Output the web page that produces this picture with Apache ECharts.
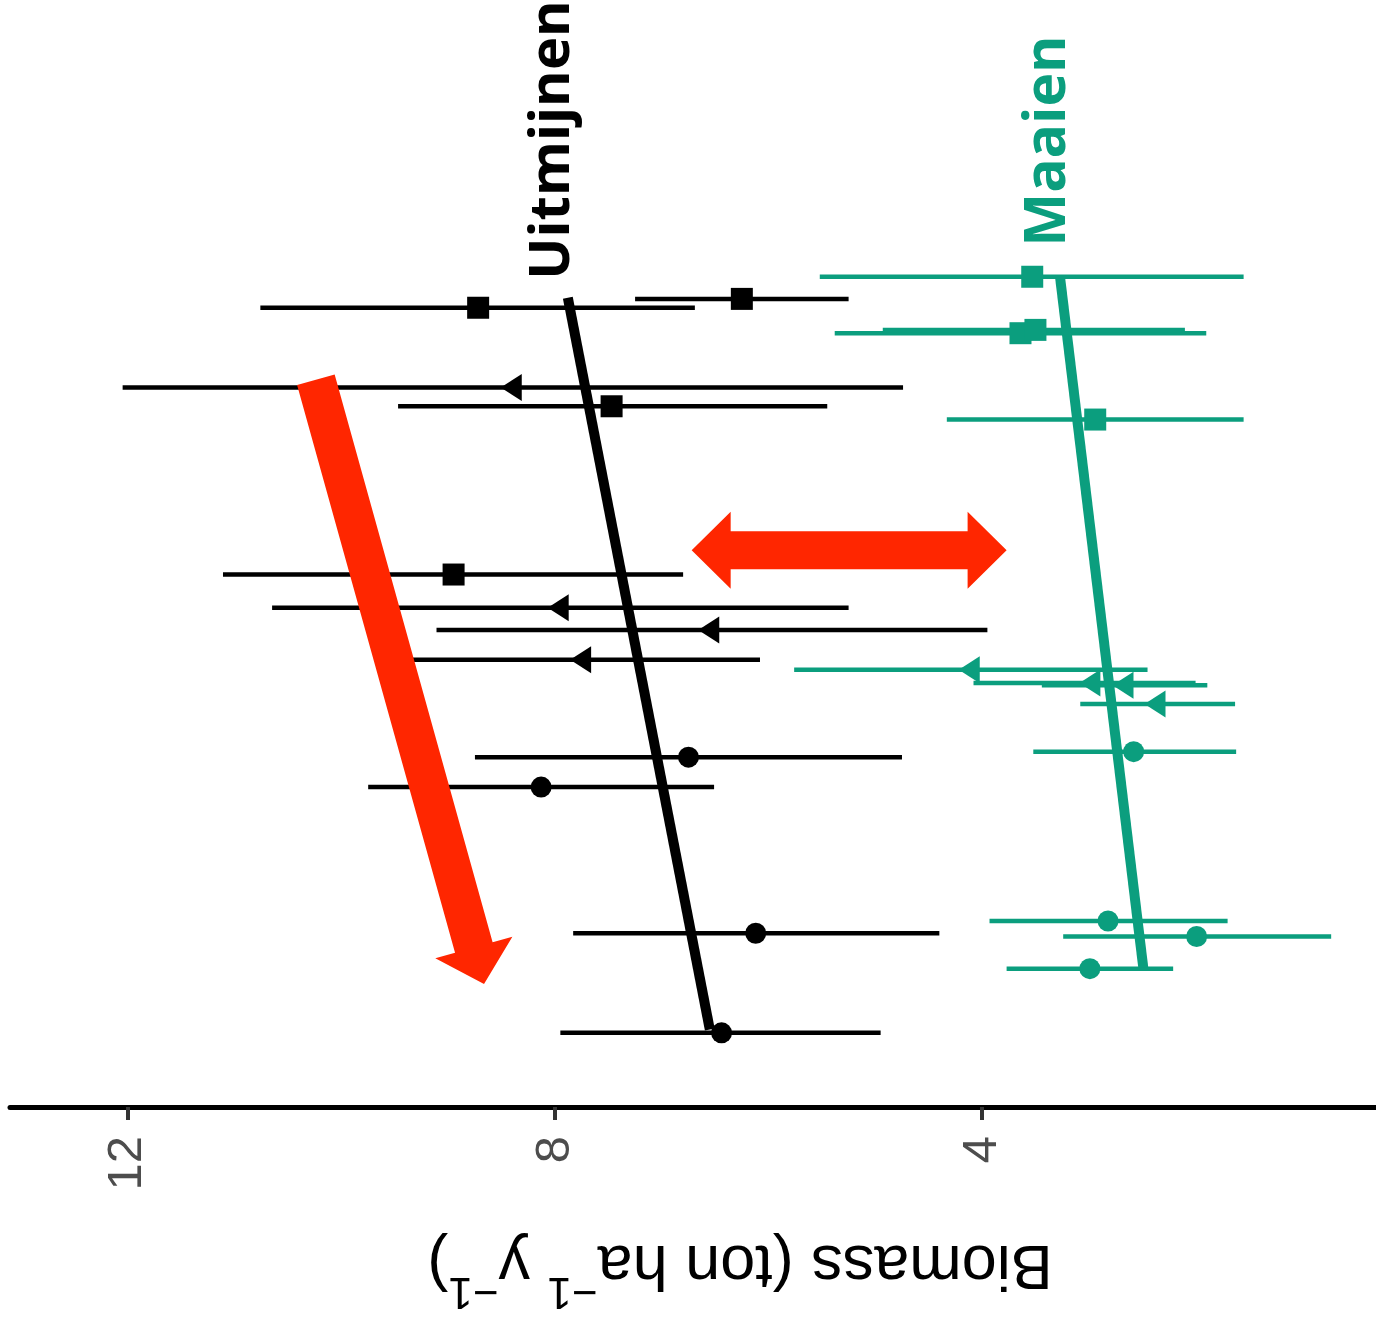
<!DOCTYPE html>
<html>
<head>
<meta charset="utf-8">
<script src="https://cdn.jsdelivr.net/npm/echarts@6/dist/echarts.min.js"></script>
<style>
  html, body { margin: 0; padding: 0; background: #fff; }
  #main { width: 1376px; height: 1322px; }
</style>
</head>
<body>
<div id="main"></div>
<script>
// biomass (ton/ha/y): mean, low and high end of the bar, and the place along the hidden vertical axis
const blackPos   = [72.2, 73.0, 65.0, 63.3, 48.1, 45.1, 43.1, 40.4, 31.6, 28.9, 15.7, 6.7];
const blackMean  = [8.72, 6.25, 8.41, 7.47, 8.95, 7.97, 6.56, 7.76, 6.75, 8.13, 6.12, 6.44];
const blackLow   = [6.69, 5.25, 4.74, 5.45, 6.80, 5.25, 3.95, 6.08, 4.75, 6.51, 4.40, 4.95];
const blackHigh  = [10.76, 7.25, 12.05, 9.47, 11.11, 10.65, 9.11, 9.34, 8.75, 9.75, 7.83, 7.95];
const blackShape = ["s", "s", "t", "s", "s", "t", "t", "t", "c", "c", "c", "c"];

const greenPos   = [75.0, 69.9, 70.2, 62.1, 39.5, 38.3, 38.1, 36.4, 32.1, 16.8, 15.4, 12.5];
const greenMean  = [3.53, 3.64, 3.50, 2.94, 4.12, 2.99, 2.68, 2.38, 2.58, 2.82, 1.99, 2.99];
const greenLow   = [1.55, 1.90, 2.10, 1.55, 2.45, 2.00, 1.89, 1.63, 1.62, 1.70, 0.73, 2.21];
const greenHigh  = [5.52, 5.38, 4.93, 4.33, 5.76, 4.08, 3.44, 3.08, 3.52, 3.93, 3.24, 3.77];
const greenShape = ["s", "s", "s", "s", "t", "t", "t", "t", "c", "c", "c", "c"];

// fitted lines [biomass, position]
const trendBlack = [[7.88, 73.1], [6.55, 7.0]];
const trendGreen = [[3.27, 75.0], [2.49, 12.6]];

// red annotation arrows [x0, y0, x1, y1]
const arrowDown = [10.24, 65.7, 8.665, 11.1];
const arrowBoth = [6.72, 50.3, 3.77, 50.3];

const xTicks = [4, 8, 12];

const BLACK = "#000000";
const GREEN = "#0b9e7e";
const RED = "#ff2600";

const SYM = {
  s: {symbol: "rect", size: 22, rotate: 0},
  c: {symbol: "circle", size: 21, rotate: 0},
  t: {symbol: "triangle", size: [27, 21], rotate: 90},
};

function errorBars(pos, low, high, color) {
  return {
    type: "custom",
    silent: true,
    z: 2,
    encode: {x: [0, 1], y: 2},
    data: pos.map((p, i) => [low[i], high[i], p]),
    renderItem: function (params, api) {
      const a = api.coord([api.value(0), api.value(2)]);
      const b = api.coord([api.value(1), api.value(2)]);
      return {
        type: "line",
        shape: {x1: a[0], y1: a[1], x2: b[0], y2: b[1]},
        style: {stroke: color, lineWidth: 4.5},
      };
    },
  };
}

function points(pos, mean, shape, color) {
  return {
    type: "scatter",
    silent: true,
    z: 4,
    itemStyle: {color: color, opacity: 1},
    data: pos.map((p, i) => ({
      value: [mean[i], p],
      symbol: SYM[shape[i]].symbol,
      symbolSize: SYM[shape[i]].size,
      symbolRotate: SYM[shape[i]].rotate,
    })),
  };
}

function trend(data, color) {
  return {
    type: "line",
    silent: true,
    z: 3,
    symbol: "none",
    data: data,
    lineStyle: {color: color, width: 10},
  };
}

function arrow(data, twoHeads, shaft, headW, headL) {
  return {
    type: "custom",
    silent: true,
    z: 6,
    encode: {x: [0, 2], y: [1, 3]},
    data: [data],
    renderItem: function (params, api) {
      const p0 = api.coord([api.value(0), api.value(1)]);
      const p1 = api.coord([api.value(2), api.value(3)]);
      const dx = p1[0] - p0[0], dy = p1[1] - p0[1];
      const len = Math.sqrt(dx * dx + dy * dy);
      const u = [dx / len, dy / len];
      const n = [-u[1], u[0]];
      const at = (p, a, b) => [p[0] + u[0] * a + n[0] * b, p[1] + u[1] * a + n[1] * b];
      let pts = [];
      if (twoHeads) {
        pts.push(p0, at(p0, headL, headW), at(p0, headL, shaft));
      } else {
        pts.push(at(p0, 0, shaft));
      }
      pts.push(at(p1, -headL, shaft), at(p1, -headL, headW), p1,
               at(p1, -headL, -headW), at(p1, -headL, -shaft));
      if (twoHeads) {
        pts.push(at(p0, headL, -shaft), at(p0, headL, -headW));
      } else {
        pts.push(at(p0, 0, -shaft));
      }
      return {type: "polygon", shape: {points: pts}, style: {fill: RED}};
    },
  };
}

const chart = echarts.init(document.getElementById("main"));

chart.setOption({
  backgroundColor: "#ffffff",
  animation: false,
  grid: {left: 10, right: 0, top: 0, bottom: 215},
  xAxis: {
    type: "value",
    inverse: true,
    min: 0.31,
    max: 13.105,
    axisLine: {show: true, onZero: false, lineStyle: {color: "#000", width: 5}},
    axisTick: {show: true, customValues: xTicks, length: 13, lineStyle: {color: "#333", width: 4}},
    axisLabel: {
      customValues: xTicks,
      rotate: 90,
      margin: 29,
      color: "#4d4d4d",
      fontSize: 49,
      fontFamily: "Liberation Sans",
    },
    splitLine: {show: false},
  },
  yAxis: {type: "value", min: 0, max: 100, show: false},
  series: [
    errorBars(blackPos, blackLow, blackHigh, BLACK),
    errorBars(greenPos, greenLow, greenHigh, GREEN),
    trend(trendBlack, BLACK),
    trend(trendGreen, GREEN),
    points(blackPos, blackMean, blackShape, BLACK),
    points(greenPos, greenMean, greenShape, GREEN),
    arrow(arrowDown, false, 19.5, 40, 38),
    arrow(arrowBoth, true, 19, 38.5, 39),
  ],
  graphic: [
    {
      type: "text", x: 553, y: 140, rotation: Math.PI / 2, z: 10,
      style: {text: "Uitmijnen", fill: "#000", fontSize: 56, fontWeight: "bold",
              fontFamily: "Open Sans", align: "center", verticalAlign: "middle"},
    },
    {
      type: "text", x: 1049, y: 141, rotation: Math.PI / 2, z: 10,
      style: {text: "Maaien", fill: GREEN, fontSize: 57, fontWeight: "bold",
              fontFamily: "Open Sans", align: "center", verticalAlign: "middle"},
    },
    {
      type: "text", x: 740, y: 1272, rotation: Math.PI, z: 10,
      style: {
        text: "{n|Biomass (ton ha}{s|\u22121}{n| y}{s|\u22121}{n|)}",
        fill: "#000",
        align: "center",
        verticalAlign: "middle",
        rich: {
          n: {fontSize: 63, fontFamily: "Liberation Sans", fill: "#000", lineHeight: 80, verticalAlign: "bottom"},
          s: {fontSize: 44, fontFamily: "Liberation Sans", fill: "#000", lineHeight: 44, verticalAlign: "top"},
        },
      },
    },
  ],
});
</script>
</body>
</html>
